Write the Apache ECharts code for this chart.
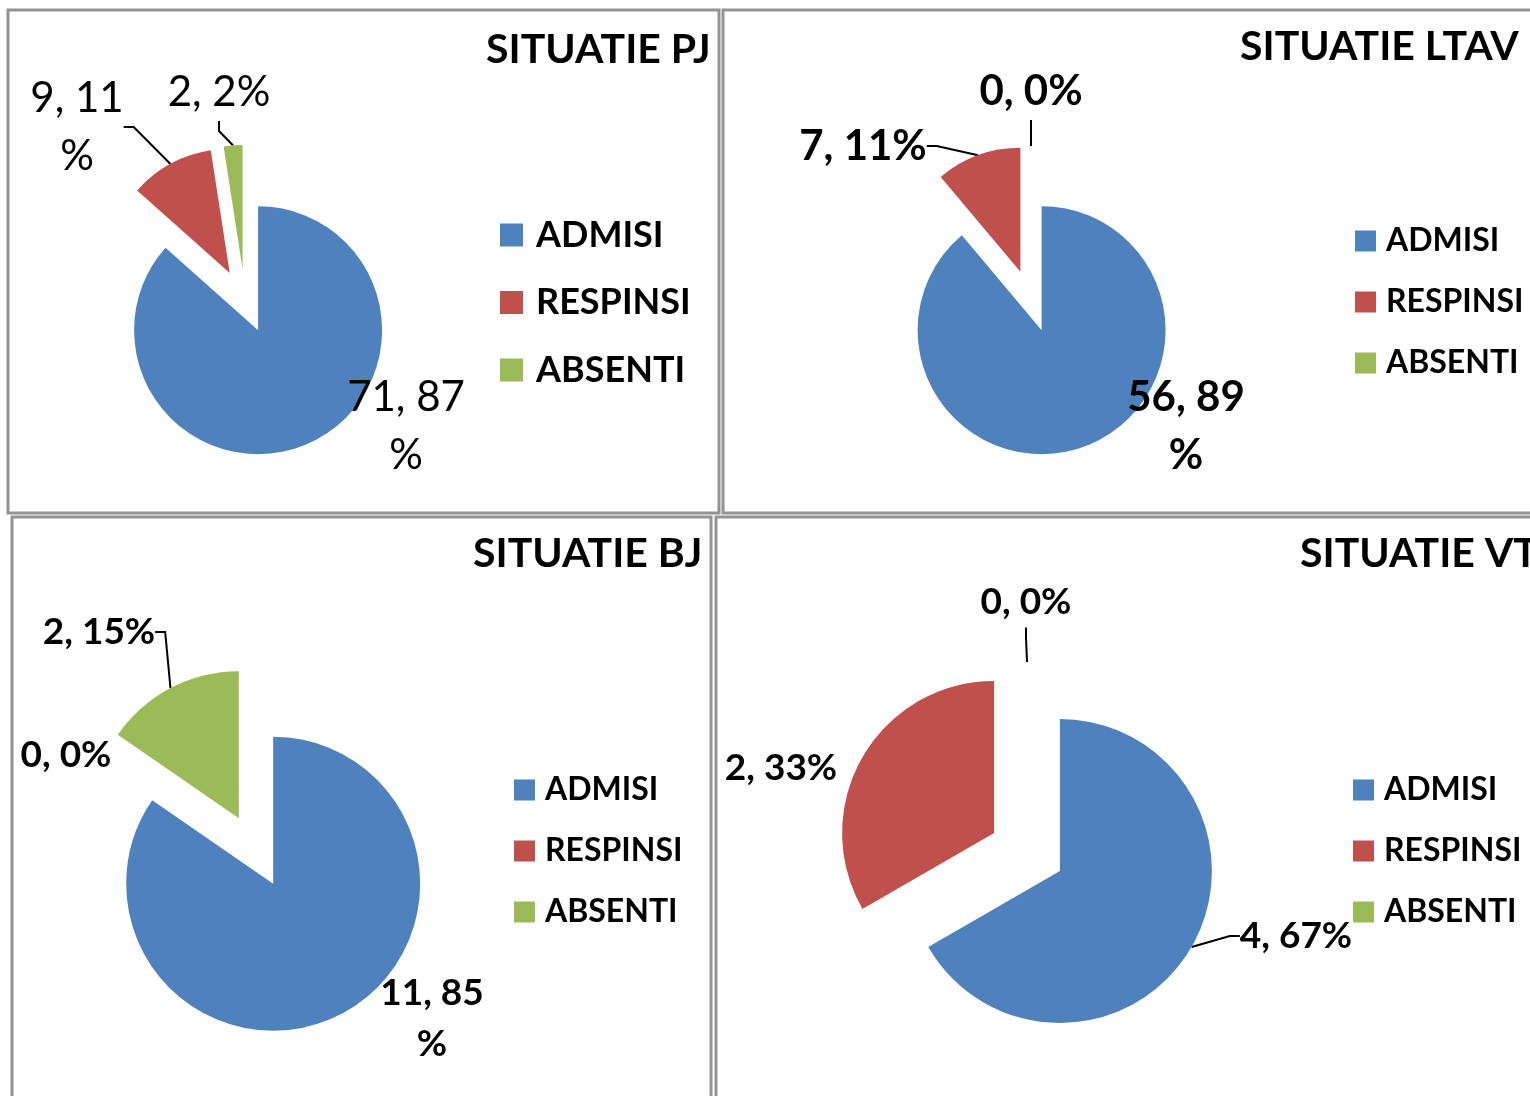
<!DOCTYPE html>
<html>
<head>
<meta charset="utf-8">
<title>Situatie</title>
<script src="https://cdn.jsdelivr.net/npm/echarts@6/dist/echarts.min.js"></script>
<style>
  html, body { margin: 0; padding: 0; background: #fff; }
  #chart { width: 1530px; height: 1096px; }
</style>
</head>
<body>
<div id="chart"></div>
<script>
// --- data ---
const categories = ["ADMISI", "RESPINSI", "ABSENTI"];
const titles = ["SITUATIE PJ", "SITUATIE LTAV", "SITUATIE BJ", "SITUATIE VT"];
const valuesPJ = [71, 9, 2];
const valuesLTAV = [56, 7, 0];
const valuesBJ = [11, 0, 2];
const valuesVT = [4, 2, 0];

const colors = ["#4F81BD", "#C0504D", "#9BBB59"];
const FONT = "Lato, 'Open Sans', sans-serif";

// --- layout of the four boxes (positions / sizes only) ---
const panels = [
  { values: valuesPJ, frame: [8, 10, 711, 503], center: [245, 301], radius: 124, explode: 32,
    title: [486, 29], legend: { left: 500, first: 235, step: 67.5, icon: 23, font: 36, pad: 8 },
    labelFont: 42, labelBold: false, wrap: [0, 1], leaders: [1, 2],
    spots: [[406, 426], [77, 127], [219, 92]] },
  { values: valuesLTAV, frame: [723, 10, 820, 503], center: [1031, 301], radius: 124, explode: 31,
    title: [1240, 26], legend: { left: 1355, first: 241, step: 61, icon: 21, font: 32, pad: 5 },
    labelFont: 42, labelBold: true, wrap: [0], leaders: [1, 2],
    spots: [[1186, 426], [863, 146], [1031, 91]] },
  { values: valuesBJ, frame: [12, 517, 699, 600], center: [256, 851], radius: 147, explode: 37,
    title: [473, 533], legend: { left: 514, first: 790, step: 61, icon: 21, font: 32, pad: 5 },
    labelFont: 37, labelBold: true, wrap: [0], leaders: [2],
    spots: [[432, 1019], [66, 755], [99, 632]] },
  { values: valuesVT, frame: [716, 517, 830, 600], center: [1027, 852], radius: 152, explode: 38,
    title: [1300, 533], legend: { left: 1353, first: 790, step: 61, icon: 21, font: 32, pad: 5 },
    labelFont: 37, labelBold: true, wrap: [], leaders: [0, 2],
    spots: [[1296, 936], [781, 768], [1026, 602]] }
];

// each slice is pulled out along its own middle angle (Excel "explosion")
function slicePull(values, k, dist) {
  const total = values.reduce((a, b) => a + b, 0);
  const before = values.slice(0, k).reduce((a, b) => a + b, 0);
  const mid = ((before + values[k] / 2) / total) * 2 * Math.PI;
  return [dist * Math.sin(mid), -dist * Math.cos(mid)];
}

const chart = echarts.init(document.getElementById("chart"));

const series = [];
panels.forEach((p, i) => {
  p.values.forEach((_, k) => {
    const pull = slicePull(p.values, k, p.explode);
    series.push({
      type: "pie",
      name: titles[i] + " " + categories[k],
      center: [p.center[0] + pull[0], p.center[1] + pull[1]],
      radius: p.radius,
      startAngle: 90,
      clockwise: true,
      percentPrecision: 0,
      avoidLabelOverlap: false,
      animation: false,
      silent: true,
      emphasis: { disabled: true },
      itemStyle: { borderWidth: 0 },
      label: {
        color: "#000",
        fontFamily: FONT,
        fontSize: p.labelFont,
        fontWeight: p.labelBold ? "bold" : "normal",
        lineHeight: Math.round(p.labelFont * 1.38),
        formatter: (d) => p.wrap.includes(d.dataIndex)
          ? `${d.value}, ${d.percent}\n%`
          : `${d.value}, ${d.percent}%`
      },
      labelLine: { length: 8, length2: 10, lineStyle: { color: "#000", width: 2 } },
      labelLayout: (params) => ({
        x: p.spots[params.dataIndex][0],
        y: p.spots[params.dataIndex][1],
        align: "center",
        verticalAlign: "middle"
      }),
      data: p.values.map((v, j) => ({
        name: categories[j],
        value: v,
        itemStyle: { color: j === k ? colors[j] : "rgba(0,0,0,0)" },
        label: { show: j === k, position: "outside" },
        labelLine: { show: j === k && p.leaders.includes(j) }
      }))
    });
  });
});

const legends = panels.map((p) => ({
  orient: "vertical",
  left: p.legend.left,
  top: p.legend.first - p.legend.font / 2,
  itemWidth: p.legend.icon,
  itemHeight: p.legend.icon,
  itemGap: p.legend.step - p.legend.font,
  icon: "rect",
  selectedMode: false,
  padding: 0,
  data: categories.map((c, j) => ({ name: c, itemStyle: { color: colors[j] } })),
  textStyle: {
    fontFamily: FONT,
    fontSize: p.legend.font,
    fontWeight: "bold",
    color: "#000",
    padding: [0, 0, 0, p.legend.pad]
  }
}));

const titleComps = panels.map((p, i) => ({
  text: titles[i],
  left: p.title[0],
  top: p.title[1],
  padding: 0,
  textStyle: { fontFamily: FONT, fontSize: 41, fontWeight: "bold", color: "#000" }
}));

const frames = panels.map((p) => ({
  type: "rect",
  shape: { x: p.frame[0], y: p.frame[1], width: p.frame[2], height: p.frame[3] },
  style: { fill: "none", stroke: "#939393", lineWidth: 3 },
  silent: true
}));

chart.setOption({
  animation: false,
  color: colors,
  backgroundColor: "#fff",
  title: titleComps,
  legend: legends,
  graphic: frames,
  series: series
});
</script>
</body>
</html>
